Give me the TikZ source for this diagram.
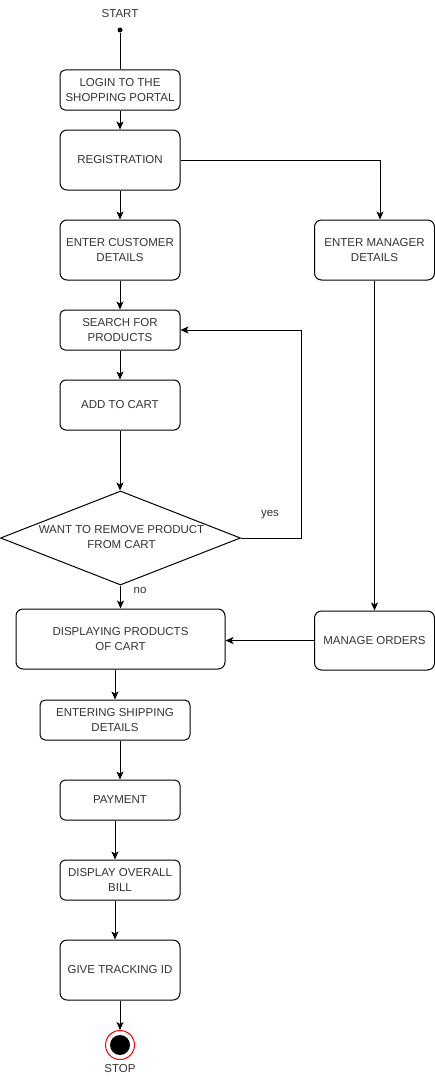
\documentclass[tikz,border=0pt]{standalone}
\usepackage{fontspec}
\setmainfont{Liberation Sans}
\usetikzlibrary{arrows.meta,shapes.geometric}
\definecolor{txtgray}{RGB}{51,51,51}

\tikzset{
	act/.style={draw, rounded corners=5pt, minimum width=120pt, inner sep=0pt, align=center, text=txtgray, font=\fontsize{11.5}{15}\selectfont},
	tall/.style={act, minimum height=60pt, rounded corners=7pt},
	lbl/.style={text=txtgray, inner sep=0pt, align=center, font=\fontsize{11.5}{15}\selectfont},
	dec/.style={draw, diamond, aspect=2.55, minimum width=240pt, minimum height=94pt, inner sep=0pt},
	flow/.style={-{Stealth[length=8pt,width=7pt,inset=2pt]}},
	stopring/.style={circle, draw=red, fill=white, minimum size=29pt, inner sep=0pt,
		path picture={\fill[black] (path picture bounding box.center) circle (10pt);}}
}

\begin{document}
\begin{tikzpicture}[x=1pt, y=-1pt, line width=1pt]
			%%%%% START %%%%%
			\useasboundingbox (0,0) rectangle (435,1081);
			
			\node[lbl] (starttxt) at (120,14) {START};
			\node[circle, fill, minimum size=5pt, inner sep=0pt] (start) at (120,30) {};
			
			\node[act, minimum height=40pt] (login) at (120,90) {LOGIN TO THE\\SHOPPING PORTAL};
			\node[tall] (reg) at (120,160) {REGISTRATION};
			\node[tall] (cust) at (120,250) {ENTER CUSTOMER\\DETAILS};
			\node[tall] (mgr) at (374.5,250) {ENTER MANAGER\\DETAILS};
			\node[act, minimum height=40pt] (search) at (120,330) {SEARCH FOR\\PRODUCTS};
			\node[act, minimum height=50pt, rounded corners=6pt] (cart) at (120,405) {ADD TO CART};
			
			\node[dec] (remove) at (120.5,538) {};
			\node[lbl] (removetxt) at (121.5,537) {WANT TO REMOVE PRODUCT\\FROM CART};
			
			\node[tall, minimum width=209pt] (disp) at (120.5,639) {DISPLAYING PRODUCTS\\OF CART};
			\node[tall, minimum height=59pt] (orders) at (374.5,640.5) {MANAGE ORDERS};
			
			\node[act, minimum width=150pt, minimum height=40pt] (ship) at (115,720) {ENTERING SHIPPING\\DETAILS};
			\node[act, minimum height=40pt] (pay) at (120,800) {PAYMENT};
			\node[act, minimum height=40pt] (bill) at (120,880) {DISPLAY OVERALL\\BILL};
			\node[tall] (track) at (120,970) {GIVE TRACKING ID};
			
			\node[stopring] (stop) at (120,1045) {};
			\node[lbl] (stoptxt) at (120,1069) {STOP};
			
			\draw (start) -- (login);
			\draw[flow] (login) -- (reg);
			\draw[flow] (reg) -- (cust);
			\draw[flow] (reg.east) -| ([xshift=5.5pt]mgr.north);
			\draw[flow] (cust) -- (search);
			\draw[flow] (search) -- (cart);
			\draw[flow] (cart.south) -- (cart.south |- remove.north);
			
			\draw[flow] (remove.east) -- ++(60,0) |- (search.east);
			\node[lbl] (yes) at (270,515) {yes};
			\draw[flow] (remove.south) -- (disp.north);
			\node[lbl] (no) at (140,590) {no};
			
			\draw[flow] (mgr) -- (orders);
			\draw[flow] (orders.west) -- (orders.west -| disp.east);
			
			\draw[flow] (disp.south -| ship) -- (ship);
			\draw[flow] (ship.south -| pay) -- (pay);
			\draw[flow] ([xshift=-5pt]pay.south) -- ([xshift=-5pt]bill.north);
			\draw[flow] ([xshift=-5pt]bill.south) -- ([xshift=-5pt]track.north);
			\draw[flow] (track) -- (stop);
			
			%%%%% END %%%%%
\end{tikzpicture}
\end{document}
